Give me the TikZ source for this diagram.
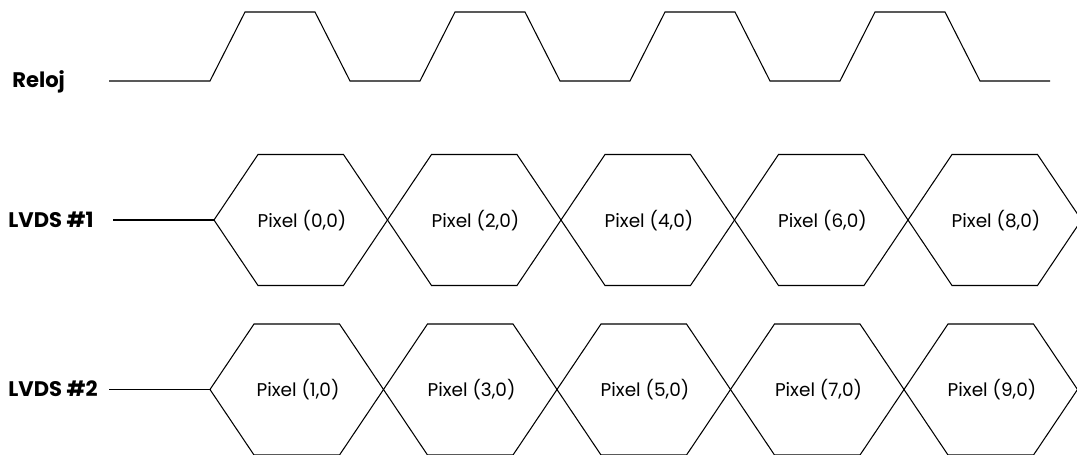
\documentclass[tikz,border=0pt]{standalone}
\usepackage{fontspec}
\setmainfont{Poppins}

\begin{document}
\begin{tikzpicture}[x=0.02cm,y=-0.02cm,
        wave/.style={line width=0.6pt,line join=miter},
        pixtext/.style={font=\fontsize{10.5}{12}\selectfont,anchor=base},
        siglabel/.style={font=\bfseries\fontsize{12}{14}\selectfont,anchor=base west,inner sep=0pt}]
        \useasboundingbox (0,0) rectangle (1077,455);
        % senal de reloj
        \node[siglabel] (reloj) at (12,87.5) {Reloj};
        \draw[wave] (109,81) -- (210,81)
                \foreach \k in {0,...,3} {
                        -- ({245+210*\k},12) -- ({315+210*\k},12)
                        -- ({350+210*\k},81) -- ({420+210*\k},81)};
        % LVDS #1
        \node[siglabel] (lvdsa) at (8,227.5) {LVDS \#1};
        \draw[wave] (113,220) -- (214,220);
        \foreach \k in {0,...,4} {
                \pgfmathsetmacro{\xs}{214+173.5*\k}
                \pgfmathtruncatemacro{\n}{2*\k}
                \draw[wave] (\xs,220) -- (\xs+44,154.5) -- (\xs+129.5,154.5)
                        -- (\xs+173.5,220) -- (\xs+129.5,285.5) -- (\xs+44,285.5) -- cycle;
                \node[pixtext] (pixa\k) at (\xs+88,227.5) {Pixel (\n,0)};
        }
        % LVDS #2
        \node[siglabel] (lvdsb) at (8,397) {LVDS \#2};
        \draw[wave] (109,389.5) -- (210,389.5);
        \foreach \k in {0,...,4} {
                \pgfmathsetmacro{\xs}{210+173.5*\k}
                \pgfmathtruncatemacro{\n}{2*\k+1}
                \draw[wave] (\xs,389.5) -- (\xs+44,324) -- (\xs+129.5,324)
                        -- (\xs+173.5,389.5) -- (\xs+129.5,455) -- (\xs+44,455) -- cycle;
                \node[pixtext] (pixb\k) at (\xs+88,397) {Pixel (\n,0)};
        }
\end{tikzpicture}
\end{document}
